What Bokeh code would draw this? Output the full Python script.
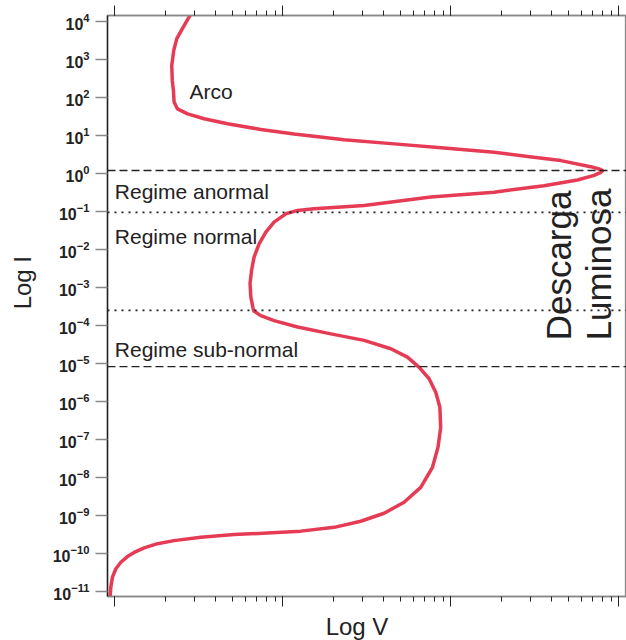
import math
from bokeh.plotting import figure
from bokeh.models import LogAxis, LogTicker, FixedTicker, Span, Label
from bokeh.core.properties import value
from bokeh.embed import file_html
from bokeh.resources import INLINE

# ---- data (exponents: V = 10**log_v, I = 10**log_i) ----
log_v = [-0.028, -0.024, -0.014, 0.006, 0.036, 0.075, 0.115, 0.175, 0.254, 0.353,
         0.512, 0.710, 0.909, 1.107, 1.306, 1.464, 1.603, 1.722, 1.821, 1.891,
         1.924, 1.940, 1.935, 1.911, 1.871, 1.812, 1.742, 1.643, 1.484, 1.286,
         1.088, 0.948, 0.869, 0.826, 0.810, 0.805, 0.814, 0.829, 0.859, 0.899,
         0.948, 1.018, 1.088, 1.186, 1.484, 1.881, 2.258, 2.555, 2.754, 2.853,
         2.893, 2.903, 2.883, 2.833, 2.655, 2.457, 2.258, 1.960, 1.663, 1.365,
         1.067, 0.869, 0.671, 0.532, 0.433, 0.373, 0.353, 0.349, 0.342, 0.339,
         0.351, 0.369, 0.403, 0.448, 0.464]
log_i = [-11.15, -10.89, -10.62, -10.40, -10.23, -10.08, -9.97, -9.85, -9.74, -9.66,
         -9.57, -9.50, -9.46, -9.41, -9.31, -9.15, -8.94, -8.65, -8.26, -7.73,
         -7.20, -6.68, -6.15, -5.76, -5.40, -5.10, -4.83, -4.61, -4.39, -4.22,
         -4.04, -3.87, -3.74, -3.61, -3.26, -2.90, -2.55, -2.20, -1.85, -1.54,
         -1.28, -1.06, -0.97, -0.93, -0.84, -0.62, -0.49, -0.32, -0.17, -0.05,
         0.03, 0.08, 0.12, 0.18, 0.34, 0.45, 0.56, 0.67, 0.78, 0.89,
         1.04, 1.16, 1.31, 1.44, 1.57, 1.70, 1.88, 2.18, 2.45, 2.84,
         3.24, 3.55, 3.82, 4.16, 4.29]
V = [10 ** x for x in log_v]
I = [10 ** y for y in log_i]

y_tick_exponents = [-11, -10, -9, -8, -7, -6, -5, -4, -3, -2, -1, 0, 1, 2, 3, 4]
y_ticks = [10.0 ** k for k in y_tick_exponents]

dashed_levels = [1.2, 8.3e-6]
dotted_levels = [0.095, 2.5e-4]

region_labels = ["Arco", "Regime anormal", "Regime normal", "Regime sub-normal"]
region_x = [2.78, 1.0, 1.0, 1.0]
region_y = [10 ** 2.15, 10 ** -0.48, 10 ** -1.66, 10 ** -4.64]

FONT = "Liberation Sans"
RED = "#E63B55"
INK = "#222222"
GREY = "#888888"
NB = "\u00a0"

p = figure(x_axis_type="log", y_axis_type="log",
           x_range=(10 ** -0.0435, 10 ** 3.046), y_range=(10 ** -11.13, 10 ** 4.158),
           frame_width=519, frame_height=581,
           min_border_left=107, min_border_right=0, min_border_top=15, min_border_bottom=44,
           output_backend="svg", toolbar_location=None)
p.grid.visible = False
p.outline_line_color = GREY
p.outline_line_width = 1.3
p.background_fill_color = "white"
p.border_fill_color = "white"


def style_x(ax):
    ax.major_label_text_font_size = "1px"
    ax.major_label_text_color = None
    ax.major_label_standoff = 0
    ax.axis_line_color = GREY
    ax.axis_line_width = 1.3
    ax.major_tick_line_color = INK
    ax.minor_tick_line_color = INK
    ax.major_tick_out = 10
    ax.major_tick_in = 0
    ax.minor_tick_out = 5
    ax.minor_tick_in = 0


# bottom axis
xa = p.xaxis[0]
xa.ticker = LogTicker(num_minor_ticks=10, desired_num_ticks=4)
style_x(xa)
xa.axis_label = "Log V" + NB * 3
xa.axis_label_text_font = FONT
xa.axis_label_text_font_style = "normal"
xa.axis_label_text_font_size = "24px"
xa.axis_label_text_color = INK
xa.axis_label_standoff = 6

# top axis
ta = LogAxis(ticker=LogTicker(num_minor_ticks=10, desired_num_ticks=4))
style_x(ta)
p.add_layout(ta, "above")

# left axis
ya = p.yaxis[0]
ya.ticker = FixedTicker(ticks=y_ticks, minor_ticks=[])
ya.axis_line_color = INK
ya.axis_line_width = 1.5
ya.major_tick_line_color = GREY
ya.major_tick_line_width = 1.5
ya.major_tick_out = 12
ya.major_tick_in = 0
ya.minor_tick_out = 0
ya.minor_tick_in = 0
ya.major_label_text_font = FONT
ya.major_label_text_font_style = "bold"
ya.major_label_text_font_size = "16px"
ya.major_label_text_color = INK
ya.major_label_standoff = 6
ya.axis_label = NB * 7 + "Log I"
ya.axis_label_text_font = FONT
ya.axis_label_text_font_style = "normal"
ya.axis_label_text_font_size = "24px"
ya.axis_label_text_color = INK
ya.axis_label_standoff = 14

# boundaries
for lv in dashed_levels:
    p.add_layout(Span(location=lv, dimension="width", line_color=INK,
                      line_width=1.3, line_dash="8 4"))
for lv in dotted_levels:
    p.add_layout(Span(location=lv, dimension="width", line_color=INK,
                      line_width=1.6, line_dash="2 5"))

# curve
p.line(V, I, line_color=RED, line_width=3.5, line_join="round", line_cap="round")

# region labels
p.text(x=region_x, y=region_y, text=region_labels, text_font=value(FONT),
       text_font_size="21px", text_color=INK, text_align="left",
       text_baseline="alphabetic")

# vertical "Descarga Luminosa"
for txt, xv in [("Descarga", 10 ** 2.643), ("Luminosa", 10 ** 2.881)]:
    p.add_layout(Label(x=xv, y=10 ** -4.39, text=txt, angle=math.pi / 2,
                       text_font=FONT, text_font_size="35px", text_color=INK,
                       text_align="left", text_baseline="alphabetic"))

open("out.html", "w").write(file_html(p, INLINE))
